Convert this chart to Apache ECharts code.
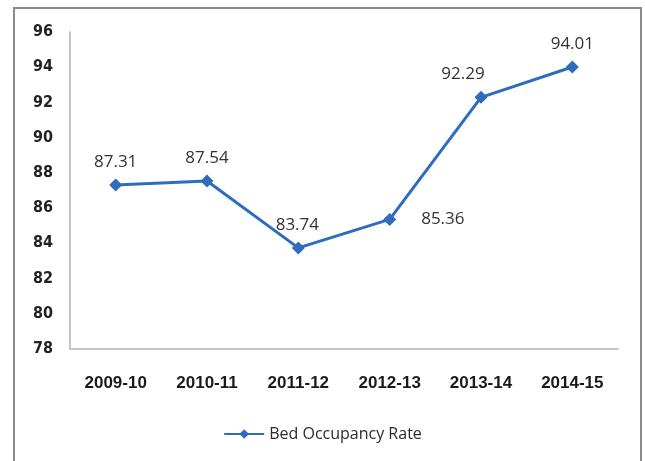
<!DOCTYPE html>
<html>
<head>
<meta charset="utf-8">
<script src="https://cdn.jsdelivr.net/npm/echarts@6/dist/echarts.min.js"></script>
<style>
  html, body { margin: 0; padding: 0; background: #fff; }
  #chart { width: 645px; height: 461px; }
</style>
</head>
<body>
<div id="chart"></div>
<script>
// 年份
const years = ['2009-10', '2010-11', '2011-12', '2012-13', '2013-14', '2014-15']
// 床位占用率
const occupancy = [87.31, 87.54, 83.74, 85.36, 92.29, 94.01]
const yTicks = [78, 80, 82, 84, 86, 88, 90, 92, 94, 96]

// 每个标签的位置
const labelPos = ['top', 'top', 'top', 'right', 'top', 'top']
const labelOffset = [[0, -3], [0, -3], [-1, -3], [20, 0], [-18, -3], [0, -3]]

const chart = echarts.init(document.getElementById('chart'))
chart.setOption({
  animation: false,
  graphic: [{
    type: 'rect',
    shape: { x: 14, y: 8, width: 627, height: 470 },
    style: { fill: 'none', stroke: '#8a8a8a', lineWidth: 2 },
    silent: true
  }],
  grid: { left: 70, right: 27, top: 32, bottom: 112 },
  legend: {
    bottom: 14,
    left: 'center',
    itemWidth: 40,
    itemHeight: 12,
    itemGap: 4,
    textStyle: { fontSize: 16, color: '#2a2a2a', fontFamily: 'Open Sans' },
    data: ['Bed Occupancy Rate']
  },
  xAxis: {
    type: 'category',
    data: years,
    boundaryGap: true,
    axisLine: { lineStyle: { color: '#c6c6c6', width: 2 } },
    axisTick: { show: false },
    axisLabel: { margin: 26, fontSize: 17, fontWeight: 'bold', color: '#1a1a1a', fontFamily: 'Liberation Sans' }
  },
  yAxis: {
    type: 'value',
    min: yTicks[0],
    max: yTicks[yTicks.length - 1],
    interval: 2,
    splitLine: { show: false },
    axisLine: { show: true, lineStyle: { color: '#c6c6c6', width: 2 } },
    axisTick: { show: false },
    axisLabel: { margin: 17, fontSize: 16, fontWeight: 'bold', color: '#222', fontFamily: 'DejaVu Sans Condensed' }
  },
  series: [{
    name: 'Bed Occupancy Rate',
    type: 'line',
    data: occupancy.map((v, i) => ({
      value: v,
      label: { position: labelPos[i], offset: labelOffset[i] }
    })),
    symbol: 'diamond',
    symbolSize: 13,
    lineStyle: { color: '#2e6cbd', width: 3 },
    itemStyle: { color: '#2e6cbd' },
    label: {
      show: true,
      fontSize: 17,
      color: '#333',
      fontFamily: 'Open Sans',
      formatter: p => p.value.toFixed(2)
    }
  }]
})
</script>
</body>
</html>
